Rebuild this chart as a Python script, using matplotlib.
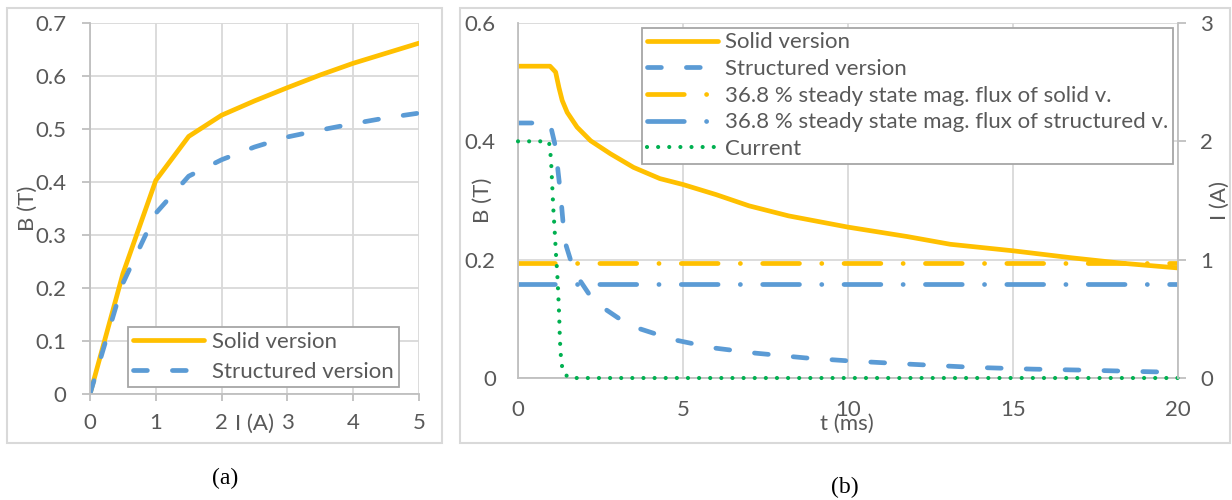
import matplotlib.pyplot as plt
from matplotlib.patches import Rectangle

plt.rcParams['font.family'] = ['Lato', 'DejaVu Sans']
plt.rcParams['lines.scale_dashes'] = False

# couleurs type Excel
JAUNE = '#FFC000'
BLEU = '#5B9BD5'
VERT = '#00B050'
GRIS_TXT = '#595959'
GRIS_GRILLE = '#D9D9D9'
GRIS_AXE = '#BFBFBF'
FS = 16

# (a) courbe B(I) statique
courant_a = [0, 0.5, 1, 1.5, 2, 2.5, 3, 3.5, 4, 4.5, 5]
b_solide = [0, 0.227, 0.403, 0.486, 0.526, 0.553, 0.578, 0.602, 0.624, 0.643, 0.662]
b_structure = [0, 0.209, 0.341, 0.411, 0.442, 0.466, 0.485, 0.498, 0.510, 0.521, 0.530]

# (b) transitoire
t_solide = [0, 0.97, 1.14, 1.24, 1.34, 1.49, 1.79, 2.2, 2.8, 3.5, 4.3, 5, 6, 7, 8.2,
            10, 11.8, 13.1, 15, 16.8, 18.3, 20]
bt_solide = [0.527, 0.527, 0.517, 0.491, 0.469, 0.449, 0.424, 0.401, 0.379, 0.356, 0.337,
             0.327, 0.31, 0.291, 0.274, 0.255, 0.239, 0.226, 0.215, 0.203, 0.194, 0.186]
t_structure = [0, 0.95, 1.01, 1.14, 1.21, 1.29, 1.36, 1.44, 1.59, 1.84, 2.15, 2.6, 3.05,
               3.7, 4.7, 5.9, 7.2, 8.7, 10, 12, 13.8, 15.6, 17.4, 18.8, 20]
bt_structure = [0.431, 0.431, 0.421, 0.39, 0.351, 0.311, 0.266, 0.227, 0.2, 0.168, 0.142,
                0.118, 0.101, 0.083, 0.065, 0.051, 0.042, 0.034, 0.029, 0.023, 0.018,
                0.015, 0.013, 0.011, 0.0096]
t_seuil = [0, 20]
seuil_solide = [0.194, 0.194]
seuil_structure = [0.159, 0.159]
t_courant = [0, 0.93, 0.97, 1.01, 1.07, 1.11, 1.15, 1.19, 1.22, 1.25, 1.27, 1.31, 1.37, 1.54, 20]
courant_b = [2, 2, 1.95, 1.79, 1.43, 1.25, 1.05, 0.88, 0.71, 0.51, 0.32, 0.135, 0.05, 0, 0]

LW = 3.4
TIRETS = (0, (10, 18))
TIRET_POINT = (0, (26.5, 16, 0.1, 16))
POINTILLE = (0, (0.01, 8))

fig = plt.figure(figsize=(12.32, 5), dpi=100)

# cadres autour des deux graphes
fig.patches.append(Rectangle((7 / 1232, 1 - 443 / 500), 435 / 1232, 435 / 500,
                             transform=fig.transFigure, fill=False, ec=GRIS_GRILLE, lw=1.5))
fig.patches.append(Rectangle((460 / 1232, 1 - 443 / 500), 770 / 1232, 435 / 500,
                             transform=fig.transFigure, fill=False, ec=GRIS_GRILLE, lw=1.5))


def style_axe(ax):
    for s in ['top', 'right']:
        ax.spines[s].set_visible(False)
    for s in ['left', 'bottom']:
        ax.spines[s].set_color(GRIS_AXE)
        ax.spines[s].set_linewidth(1.3)
    ax.grid(True, color=GRIS_GRILLE, lw=1.3)
    ax.set_axisbelow(True)
    ax.tick_params(colors=GRIS_AXE, labelcolor=GRIS_TXT, labelsize=FS, width=1.3)


# ---- (a)
ax1 = fig.add_axes([90 / 1232, 1 - 394 / 500, 329 / 1232, 371 / 500])
style_axe(ax1)
ax1.plot(courant_a, b_solide, color=JAUNE, lw=LW, solid_capstyle='round', label='Solid version')
ax1.plot(courant_a, b_structure, color=BLEU, lw=LW, ls=TIRETS, dash_capstyle='round',
         label='Structured version')
ax1.set_xlim(0, 5)
ax1.set_ylim(0, 0.7)
ax1.set_xticks([0, 1, 2, 3, 4, 5])
ax1.set_yticks([0, 0.1, 0.2, 0.3, 0.4, 0.5, 0.6, 0.7])
ax1.set_yticklabels(['0', '0.1', '0.2', '0.3', '0.4', '0.5', '0.6', '0.7'])
ax1.tick_params(axis='y', length=6, pad=11)
ax1.tick_params(axis='x', length=5, pad=9)
ax1.text(-0.188, 0.5, 'B (T)', transform=ax1.transAxes, rotation=90, fontsize=FS,
         color=GRIS_TXT, ha='center', va='center')
ax1.text(0.5, -0.081, 'I (A)', transform=ax1.transAxes, fontsize=FS,
         color=GRIS_TXT, ha='center', va='center')
leg1 = ax1.legend(loc='upper left', bbox_to_anchor=(0.1155, 0.1806), fontsize=FS,
                  frameon=True, fancybox=False, edgecolor='#A6A6A6', framealpha=1,
                  handlelength=3.2, handletextpad=0.35, labelspacing=0.43, borderpad=0.23,
                  borderaxespad=0)
leg1.get_frame().set_linewidth(1.3)
for txt in leg1.get_texts():
    txt.set_color(GRIS_TXT)

# ---- (b)
ax2 = fig.add_axes([518 / 1232, 1 - 378 / 500, 660 / 1232, 355 / 500])
style_axe(ax2)
ax2.tick_params(length=0, pad=16)
l1, = ax2.plot(t_solide, bt_solide, color=JAUNE, lw=LW, solid_capstyle='round',
               label='Solid version')
l2, = ax2.plot(t_structure, bt_structure, color=BLEU, lw=LW, ls=TIRETS, dash_capstyle='round',
               label='Structured version')
l3, = ax2.plot(t_seuil, seuil_solide, color=JAUNE, lw=LW, ls=TIRET_POINT, dash_capstyle='round',
               label='36.8 % steady state mag. flux of solid v.')
l4, = ax2.plot(t_seuil, seuil_structure, color=BLEU, lw=LW, ls=TIRET_POINT, dash_capstyle='round',
               label='36.8 % steady state mag. flux of structured v.')
ax2.set_xlim(0, 20)
ax2.set_ylim(0, 0.6)
ax2.set_xticks([0, 5, 10, 15, 20])
ax2.set_yticks([0, 0.2, 0.4, 0.6])
ax2.set_yticklabels(['0', '0.2', '0.4', '0.6'])
ax2.text(-0.053, 0.5, 'B (T)', transform=ax2.transAxes, rotation=90, fontsize=FS,
         color=GRIS_TXT, ha='center', va='center')
ax2.text(0.498, -0.13, 't (ms)', transform=ax2.transAxes, fontsize=FS,
         color=GRIS_TXT, ha='center', va='center')

ax3 = ax2.twinx()
for s in ['top', 'left', 'bottom']:
    ax3.spines[s].set_visible(False)
ax3.spines['right'].set_color(GRIS_AXE)
ax3.spines['right'].set_linewidth(1.3)
l5, = ax3.plot(t_courant, courant_b, color=VERT, lw=3.0, ls=POINTILLE, dash_capstyle='round',
               label='Current', clip_on=False)
ax3.set_ylim(0, 3)
ax3.set_yticks([0, 1, 2, 3])
ax3.tick_params(colors=GRIS_AXE, labelcolor=GRIS_TXT, labelsize=FS, width=1.3, length=6, pad=10)
ax3.text(1.064, 0.5, 'I (A)', transform=ax3.transAxes, rotation=90, fontsize=FS,
         color=GRIS_TXT, ha='center', va='center')

leg2 = ax3.legend(handles=[l1, l2, l3, l4, l5], loc='upper left',
                  bbox_to_anchor=(0.188, 0.986), fontsize=FS, frameon=True, fancybox=False,
                  edgecolor='#A6A6A6', framealpha=1, handlelength=3.2, handletextpad=0.35,
                  labelspacing=0.3, borderpad=0.2, borderaxespad=0)
leg2.get_frame().set_linewidth(1.3)
for txt in leg2.get_texts():
    txt.set_color(GRIS_TXT)

fig.text(225 / 1232, 1 - 478 / 500, '(a)', family='Liberation Serif', fontsize=17,
         ha='center', va='center')
fig.text(845 / 1232, 1 - 487 / 500, '(b)', family='Liberation Serif', fontsize=17,
         ha='center', va='center')

fig.savefig('out.png', dpi=100)
